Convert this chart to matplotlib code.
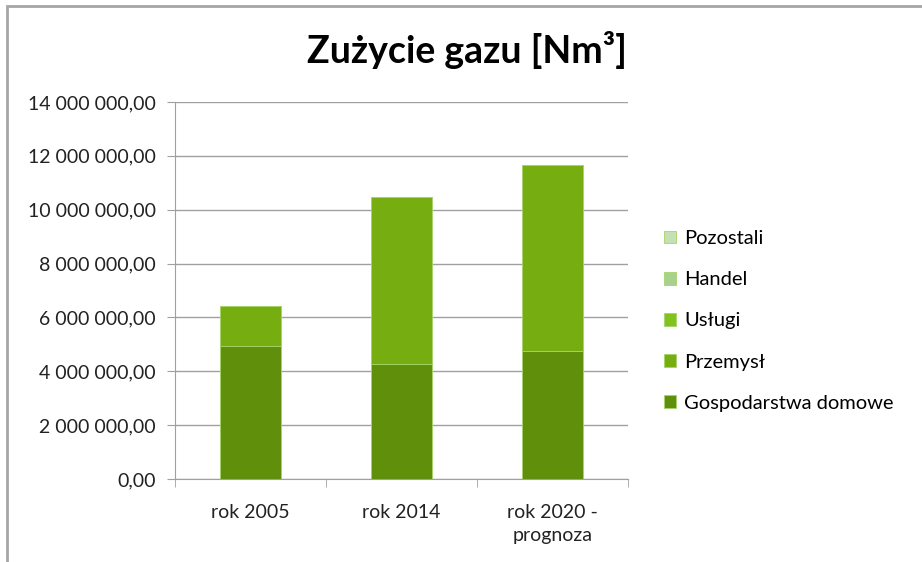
import matplotlib.pyplot as plt
from matplotlib.patches import Rectangle
from matplotlib.ticker import FuncFormatter
import numpy as np

plt.rcParams['font.family'] = ['Lato', 'DejaVu Sans']

categories = ['rok 2005', 'rok 2014', 'rok 2020 -\nprognoza']
series_names = ['Gospodarstwa domowe', 'Przemysł', 'Usługi', 'Handel', 'Pozostali']
gospodarstwa = [4940000, 4270000, 4740000]
przemysl = [1490000, 6190000, 6910000]
uslugi = [0, 0, 0]
handel = [0, 0, 0]
pozostali = [0, 0, 0]
colors = ['#5f8f0b', '#76ad10', '#80c31c', '#a9d18e', '#c5e0b4']
yticks = np.arange(0, 14000001, 2000000)

fig = plt.figure(figsize=(9.22, 5.62), dpi=100)
# chart frame, only the left and top edges are inside the picture
fig.patches.append(Rectangle((7 / 922, -0.1), 1.2, 1.1 - 6 / 562, transform=fig.transFigure,
                             fill=False, edgecolor='#a6a6a6', linewidth=2))
ax = fig.add_axes([175 / 922, 1 - 479 / 562, 453 / 922, 377 / 562])

x = np.arange(len(categories))
bottom = np.zeros(len(categories))
handles = []
for name, vals, c in zip(series_names, [gospodarstwa, przemysl, uslugi, handel, pozostali], colors):
    b = ax.bar(x, vals, 0.4, bottom=bottom, color=c, edgecolor='#a5d46a', linewidth=0.6, label=name)
    handles.append(b)
    bottom += np.array(vals)

ax.set_xlim(-0.5, 2.5)
ax.set_ylim(0, 14000000)
ax.set_yticks(yticks)
ax.yaxis.set_major_formatter(FuncFormatter(lambda v, p: f'{v:,.2f}'.replace(',', ' ').replace('.', ',')))
ax.grid(axis='y', color='#a0a0a0', linewidth=1)
ax.set_axisbelow(True)
for s in ['top', 'right']:
    ax.spines[s].set_visible(False)
ax.spines['left'].set_color('#a0a0a0')
ax.spines['bottom'].set_color('#a0a0a0')
ax.set_xticks(x)
ax.set_xticklabels(categories, fontsize=14, color='#222222', linespacing=1.45)
ax.tick_params(axis='x', length=0, pad=18)
ax.set_xticks([-0.5, 0.5, 1.5, 2.5], minor=True)
ax.tick_params(axis='x', which='minor', length=6, color='#a0a0a0')
ax.tick_params(axis='y', length=6, color='#a0a0a0', labelsize=14, labelcolor='#222222', pad=8)

fig.text(467 / 922, 1 - 50 / 562, 'Zużycie gazu [Nm³]', ha='center', va='center',
         fontsize=27, fontweight='bold')

fig.legend(handles[::-1], series_names[::-1], loc='center left', bbox_to_anchor=(646 / 922, 1 - 321 / 562),
           frameon=False, fontsize=14.5, handlelength=0.6, handleheight=0.6, labelspacing=1.2,
           handletextpad=0.4)

plt.savefig('out.png', dpi=100)
